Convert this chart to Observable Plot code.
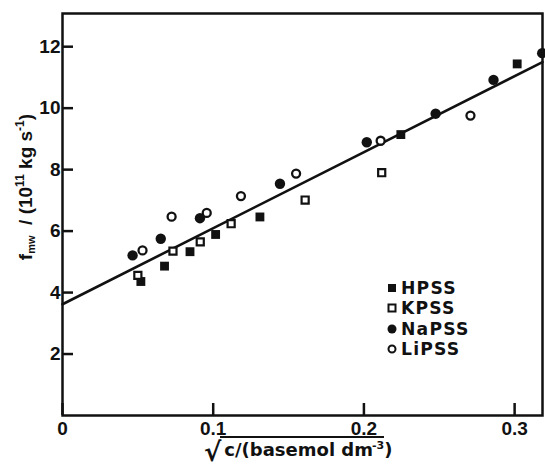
<!DOCTYPE html>
<html><head><meta charset="utf-8">
<script src="https://cdn.jsdelivr.net/npm/d3@7"></script>
<script src="https://cdn.jsdelivr.net/npm/@observablehq/plot@0.6"></script>
<style>
body{margin:0;background:#fff;}
#wrap{position:relative;width:545px;height:466px;overflow:hidden;background:#fff;}
#wrap svg{position:absolute;left:0;top:0;}
.lbl{position:absolute;white-space:nowrap;font-family:"Liberation Sans",Arial,sans-serif;font-weight:bold;color:#111;}
#ylabel{left:25px;top:187px;transform:translate(-50%,-50%) rotate(-90deg);font-size:19px;}
#ylabel sub{font-size:11px;vertical-align:-3px;}
#ylabel sup{font-size:12px;vertical-align:8px;}
#xlabel{left:204px;top:436px;font-size:18px;font-family:"DejaVu Sans",sans-serif;line-height:1;height:27px;}
#xlabel .rad{font-size:26px;display:inline-block;vertical-align:-5px;margin-right:-1px;line-height:1;}
#xlabel .ol{border-top:2.5px solid #111;padding-top:2px;display:inline-block;padding-left:4px;}
#xlabel sup{font-size:11px;vertical-align:7px;margin-left:-1px;}
#legend{position:absolute;left:386px;top:278px;font-family:"DejaVu Sans",sans-serif;font-weight:bold;font-size:17.2px;letter-spacing:1.2px;color:#111;}
#legend .row{height:20.3px;display:flex;align-items:center;}
#legend .row span{display:block;height:20px;line-height:20px;}
#legend svg{position:static;margin-right:3px;}
</style></head><body>
<div id="wrap"></div>
<script>
// Data
const hpssX = [0.052, 0.0677, 0.0846, 0.1016, 0.131, 0.2245, 0.3017];
const hpssY = [4.36, 4.86, 5.33, 5.89, 6.46, 9.14, 11.44];
const kpssX = [0.050, 0.0733, 0.0914, 0.1119, 0.161, 0.2118];
const kpssY = [4.56, 5.35, 5.65, 6.24, 7.01, 7.90];
const napssX = [0.0465, 0.0652, 0.0912, 0.1443, 0.2019, 0.2476, 0.286, 0.3183];
const napssY = [5.21, 5.75, 6.42, 7.54, 8.89, 9.82, 10.92, 11.79];
const lipssX = [0.0531, 0.0724, 0.0957, 0.1184, 0.155, 0.2111, 0.2707];
const lipssY = [5.37, 6.47, 6.59, 7.14, 7.87, 8.94, 9.76];
const fitX = [0, 0.3185];
const fitY = [3.62, 11.5];
const xTicks = [0, 0.1, 0.2, 0.3];
const yTicks = [2, 4, 6, 8, 10, 12];
const seriesNames = ["HPSS", "KPSS", "NaPSS", "LiPSS"];

const pts = (xs, ys) => xs.map((x, i) => ({x, y: ys[i]}));
const fit = pts(fitX, fitY);

const chart = Plot.plot({
  width: 545, height: 466,
  marginLeft: 62, marginRight: 3, marginTop: 13, marginBottom: 51,
  x: {domain: [0, 0.3185]},
  y: {domain: [0, 13.08]},
  style: {fontFamily: "Liberation Sans, Arial, sans-serif", fontWeight: "bold", fontSize: "19px", color: "#111", background: "white"},
  marks: [
    Plot.axisX(xTicks, {tickSize: -12, tickPadding: 18, strokeWidth: 2.5, label: null, fontSize: 19,
      tickFormat: d => d === 0 ? "0" : d3.format(".1f")(d)}),
    Plot.axisY(yTicks, {tickSize: -11, tickPadding: 13, strokeWidth: 2.5, label: null, fontSize: 19}),
    Plot.line(fit, {x: "x", y: "y", stroke: "#111", strokeWidth: 2.6}),
    Plot.dot(pts(hpssX, hpssY), {x: "x", y: "y", symbol: "square", r: 5, fill: "#111"}),
    Plot.dot(pts(kpssX, kpssY), {x: "x", y: "y", symbol: "square", r: 4, fill: "white", stroke: "#111", strokeWidth: 2.2}),
    Plot.dot(pts(napssX, napssY), {x: "x", y: "y", r: 5.2, fill: "#111"}),
    Plot.dot(pts(lipssX, lipssY), {x: "x", y: "y", r: 4, fill: "white", stroke: "#111", strokeWidth: 2.3}),
    Plot.frame({stroke: "#111", strokeWidth: 2.5})
  ]
});

const wrap = document.getElementById("wrap");
wrap.appendChild(chart);

const yl = document.createElement("div");
yl.className = "lbl"; yl.id = "ylabel";
yl.innerHTML = "f<sub>mw</sub> &nbsp;/ (10<sup>11</sup> kg s<sup>-1</sup>)";
wrap.appendChild(yl);

const xl = document.createElement("div");
xl.className = "lbl"; xl.id = "xlabel";
xl.innerHTML = '<span class="rad">√</span><span class="ol">c/(basemol dm<sup>-3</sup></span>)';
wrap.appendChild(xl);

// legend
const markers = [
  '<rect x="2" y="2" width="8" height="8" fill="#111"/>',
  '<rect x="2.5" y="2.5" width="7" height="7" fill="white" stroke="#111" stroke-width="2"/>',
  '<circle cx="6" cy="6" r="4.5" fill="#111"/>',
  '<circle cx="6" cy="6" r="3.5" fill="white" stroke="#111" stroke-width="2"/>'
];
const lg = document.createElement("div");
lg.id = "legend";
lg.innerHTML = seriesNames.map((n, i) =>
  `<div class="row"><svg width="12" height="12" viewBox="0 0 12 12">${markers[i]}</svg><span>${n}</span></div>`).join("");
wrap.appendChild(lg);
</script>
</body></html>
